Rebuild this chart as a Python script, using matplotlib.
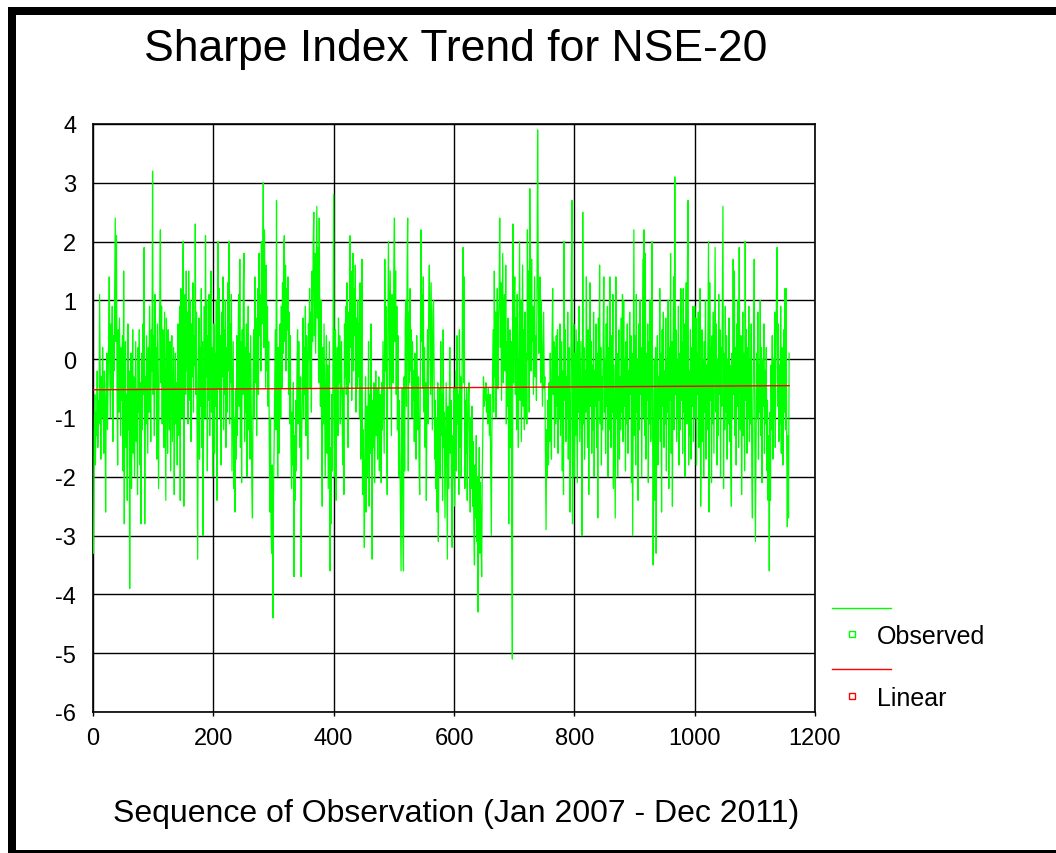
import matplotlib
matplotlib.use("Agg")
import matplotlib.pyplot as plt
from matplotlib.lines import Line2D
from matplotlib.patches import Rectangle
import numpy as np

# Sharpe index per observation (Jan 2007 - Dec 2011)
observed = [
    -3.3, -1.2, -0.6, -1.8, -0.9, -1.3, -0.2, -1.5, -0.7, -1.1, 1.1, -0.4, -1.7, -0.3, -1.0, 0.2, -0.8, -1.6, -0.2, -0.9,
    -2.6, -0.5, 0.1, -1.2, -0.4, 0.3, 1.4, -0.3, -1.0, 0.6, -0.5, 0.9, -1.4, 0.4, -0.2, 1.2, 2.4, 0.3, 2.1, -0.6,
    -1.8, 0.5, -0.9, 0.7, -0.3, -1.3, 0.2, -0.7, 0.4, -1.9,
    1.5, -2.8, -0.4, 0.3, -1.5, -0.6, -2.4, 0.6, -1.2, -0.2, -3.9, -1.0, 0.1, -2.2, -0.7, 0.5, -1.6, -0.3, -2.0, -0.8,
    0.3, -1.4, -0.5, -2.3, 0.2, -0.9, 0.5, -1.8, -0.4, -2.8, 0.1, -1.2, 0.6, -0.6, 1.9, -2.8, -0.3, -1.1, 0.4, -0.7,
    -1.6, 0.2, -0.9, 0.9, -0.4, -1.4, 0.5, -0.2, 3.2, -0.6,
    0.4, -1.3, 1.1, -0.5, 0.2, -1.7, 0.6, -0.8, -2.2, 0.3, 1.0, 2.2, -0.4, 0.9, -1.1, 0.5, -0.3, -1.5, 0.8, -0.9,
    -2.4, 0.7, -0.1, -1.6, 0.5, -0.7, -1.2, 0.3, -1.9, -0.2, 0.4, -1.4, -0.6, 0.2, -2.3, -0.8, 0.1, -1.1, -0.4, -1.8,
    0.6, -0.5, -1.3, 0.9, -2.4, 1.2, 0.3, -1.0, 1.6, 2.0,
    -2.5, 0.4, 1.1, -0.6, 1.5, -0.2, 0.8, -1.1, 1.5, 0.2, -0.7, 1.0, -1.4, 0.6, -0.3, 1.3, -0.9, 0.4, -0.1, 2.3,
    -0.6, 0.8, -1.2, -3.4, -0.4, 0.7, -1.7, 0.2, -0.8, 1.2, -1.5, 0.3, -3.0, -0.5, 0.9, -1.0, 2.1, -0.3, 1.0, -1.9,
    0.4, -0.7, 1.1, -1.3, 0.5, 1.5, -0.9, 0.2, -2.0, -0.4,
    0.6, -1.6, 0.1, -0.8, 1.0, -2.4, 0.3, 2.0, -0.5, 1.2, -1.0, 0.4, -1.8, 0.8, -0.3, 1.4, -1.2, 0.5, -0.6, 1.0,
    -1.5, 0.2, -0.9, 1.3, -0.2, 2.0, -1.1, 0.6, -0.4, 1.1, -1.9, -0.7, 0.3, -2.2, -1.0, -2.6, -0.5, -1.7, 0.4, -1.3,
    -0.2, 1.1, -0.8, 1.7, -1.5, 0.3, -2.1, 0.5, -0.6, 1.3,
    1.8, -1.4, 0.2, -0.9, 0.6, -2.0, -0.3, 0.9, -1.2, 0.1, -1.7, 0.4, -0.8, -2.1, -2.7, -0.5, 0.5, -1.0, 1.4, -0.4,
    0.7, -1.3, 0.3, 1.2, -0.6, 1.8, 0.4, 1.1, -0.2, 2.0, 0.6, 1.5, 3.0, 0.2, 2.2, 0.8, -0.5, 1.6, -0.2, 0.9,
    -0.8, 0.3, -1.4, -2.6, -1.0, -2.9, -3.3, -1.8, -4.4, -2.3,
    -1.5, -0.4, 0.5, -1.2, 2.7, -0.7, -2.0, 0.2, -1.6, -0.3, 0.6, -1.0, 0.9, -0.5, 1.3, 0.1, 1.9, 2.1, 0.3, 1.6,
    -0.2, 1.2, 0.5, 1.4, -0.6, 0.8, -1.1, 0.4, -1.5, -2.2, -0.9, -1.8, -0.4, -3.7, -1.3, -2.4, -0.7, -1.9, -0.2, 0.5,
    -1.1, 0.3, -0.8, -1.5, -0.3, -3.7, -1.2, -0.5, 0.7, -1.0,
    0.2, -0.6, 0.9, -1.3, 0.4, -0.2, -1.7, 0.6, 0.0, 1.2, -0.5, 0.8, -0.9, 1.5, 0.3, 2.0, 2.5, 0.4, 1.8, 0.1,
    1.4, 2.6, 0.7, 1.9, -0.4, 2.4, 0.5, -0.8, 1.0, -1.4, -2.5, 0.2, -1.1, 0.6, -0.7, -2.0, -0.3, 0.4, -1.6, -0.1,
    -2.2, -0.9, 0.3, -3.6, -1.5, -2.8, -0.6, -1.9, 0.4, 2.8,
    -1.0, -2.0, 0.5, -2.4, -0.6, 0.2, -1.3, 0.7, -0.4, 0.4, -1.1, -0.2, 0.3, -0.8, -1.8, -0.5, -2.3, 0.6, -0.3, 0.9,
    -0.6, 1.3, 0.4, -1.5, 0.8, -0.4, 2.1, 0.2, 1.5, -0.7, 0.9, 1.8, -0.2, 1.2, 0.4, 1.6, -0.9, 0.7, -0.5, 1.0,
    -0.3, 0.6, -1.0, 1.3, -1.7, -0.6, 1.7, -2.3, -1.2, -2.0,
    -3.2, -1.4, -0.3, -2.6, -0.8, -2.0, -1.1, 0.3, -2.5, -0.6, -1.6, 0.6, -1.0, -3.4, -0.7, -1.5, -0.4, -2.1, -0.9, -0.2,
    -1.3, -0.5, -1.7, -0.8, -0.3, -1.9, -0.6, -1.1, -2.1, -0.4, -1.2, 0.3, -0.7, -1.6, 1.7, -0.2, 0.9, -1.0, -2.3, 0.4,
    2.0, 0.8, -0.5, 1.5, 0.2, -1.3, 1.1, 0.5, -0.4, 1.6,
    2.4, 0.3, 1.5, -0.6, 0.9, -1.2, 0.4, -2.0, -0.7, -1.5, -2.6, -3.6, -1.4, -0.5, -2.9, -3.6, -0.3, -1.9, 0.6, 1.0,
    -0.8, 1.4, 2.4, -1.9, 0.8, -0.4, 1.2, -0.2, 0.5, -1.0, 0.3, -0.7, -0.2, -1.4, 0.1, -0.9, -1.7, 0.4, -0.6, -1.2,
    -0.3, -1.8, -2.3, -0.4, 2.2, 0.3, 1.1, -0.5, 1.4, -0.9,
    0.2, -1.5, -0.4, -2.4, -0.8, 0.5, -1.1, 1.0, 1.6, 0.4, -0.6, 1.3, 0.0, -1.2, 0.8, 1.0, -0.3, -1.7, -0.7, -2.2,
    -1.0, -2.6, -0.4, -3.1, -1.4, -0.5, -2.0, 0.3, -1.3, -0.6, -2.4, 0.5, -1.5, -0.9, -2.7, -1.6, -0.4, -1.9, -3.4, -0.8,
    -2.2, -1.2, 0.2, -1.6, -0.7, -2.5, -3.2, -1.3, -2.0, -0.5,
    -2.5, -1.4, -0.2, -1.9, 0.4, -1.1, -0.6, -2.3, 0.5, -1.5, -0.3, -2.0, -0.9, 0.9, 1.9, -0.4, 1.4, -2.2, -0.7, -1.6,
    -0.5, -2.4, -1.2, -0.6, -0.4, -1.9, -2.6, -1.0, -2.2, -0.8, -2.5, -1.4, -2.9, -3.5, -1.8, -2.7, -1.3, -3.1, -2.0, -4.3,
    -2.6, -1.5, -3.3, -2.1, -3.0, -3.7, -1.9, -1.2, -0.3, -0.8,
    -0.5, -0.7, -0.4, -0.9, -0.6, -1.1, -0.5, -0.8, -1.3, -0.6, -1.8, -3.0, -1.2, -0.4, 0.5, -0.9, 1.5, -0.3, 0.8, -1.0,
    0.4, 1.2, -0.5, 0.7, 1.0, 2.4, 0.2, 1.3, -0.7, 0.6, 1.8, -0.4, 0.9, 1.1, -0.2, 1.6, -1.1, 0.3, -0.8, 0.7,
    -2.8, -0.6, 0.5, -1.5, 0.3, -3.1, -5.1, 2.3, -0.4, 0.8,
    1.4, -0.6, 0.7, -1.2, 1.1, -0.4, -1.5, 0.3, 2.0, -0.7, 1.0, -1.4, 0.2, 1.6, -0.8, 0.5, -1.2, 0.8, -1.0, 0.1,
    -1.1, 2.2, 0.0, 1.5, -0.9, 2.9, 0.7, -0.2, 1.7, 0.3, 0.9, -0.6, 0.5, 1.4, -0.3, 0.4, -0.7, 1.2, 3.9, 1.5,
    0.1, 0.6, 1.4, -0.4, 1.0, 0.2, -0.8, 0.0, 0.8, -0.5,
    -0.3, -1.6, -2.9, -1.2, -2.0, -0.7, -1.8, -0.4, -1.4, 0.1, -0.9, -1.7, 0.4, 1.2, -0.6, 0.3, -1.5, 0.2, -1.1, 0.4,
    -0.8, 0.5, -1.6, -0.3, -1.0, 0.6, -1.3, -0.5, 0.3, -1.9, -0.2, -2.3, 2.0, -0.7, 0.5, -1.4, -0.3, -1.0, 0.8, -1.7,
    0.2, -0.6, -2.6, -1.1, 1.3, 2.7, -2.8, -0.8, 0.6, -2.0,
    0.1, -1.3, 0.5, -0.7, -2.1, 0.3, -0.9, 0.9, -1.4, -0.5, 0.3, -1.9, -3.0, 2.5, -1.1, 0.2, -1.7, -0.2, -0.9, 1.4,
    -0.6, -1.5, 0.5, -2.3, -0.3, 1.3, -0.8, 0.3, -1.6, -0.1, -1.2, 0.8, -2.0, -0.2, -0.8, 0.6, -1.5, 0.1, -2.7, 0.7,
    -0.7, 1.6, -1.1, 0.2, -1.8, -0.3, -1.2, 0.4, 1.4, -0.9,
    0.0, -1.6, 0.6, -0.8, 0.9, -2.0, 0.2, -1.2, 1.4, -0.6, -1.5, 0.4, -0.9, 1.1, -2.2, -0.1, -1.3, -2.7, 1.4, -1.0,
    0.1, -2.0, -0.6, 0.5, -1.7, -0.3, -1.2, 0.7, -0.9, 1.1, -1.4, 1.0, -0.8, 0.0, -1.9, 0.3, -1.1, 0.6, -1.6, -0.2,
    -1.0, 0.8, -0.6, 0.4, -2.1, 0.1, -3.0, -0.2, 2.2, -1.3,
    0.4, -1.8, 1.1, -0.9, 0.0, -2.4, 0.6, -1.2, 1.0, -0.6, 0.2, -2.0, -0.2, 1.7, -1.0, 2.2, -1.3, 1.8, -1.7, 0.1,
    -0.7, 0.6, -2.1, 0.3, -1.1, 1.0, -1.4, 0.1, 2.0, -0.8, -3.5, -1.5, 0.0, -2.4, 0.2, -3.3, -1.1, 0.4, -1.8, -0.3,
    -1.0, 1.2, -1.4, 0.1, -2.6, 0.5, -0.8, 0.8, -1.5, -0.2,
    -1.1, 0.7, -1.9, 0.0, -0.9, 1.0, -2.2, 0.2, -0.7, 1.8, -1.6, 0.3, -2.5, -0.1, 1.4, -1.2, 3.1, -0.6, 0.5, -1.4,
    0.0, -1.0, 0.9, -1.8, 0.1, -1.2, 1.2, -0.7, 0.3, -1.6, 1.2, -0.9, 0.6, -2.0, 0.1, 1.3, -1.1, 1.5, 2.7, -1.8,
    -0.2, -1.3, 0.5, -1.7, 0.2, -0.8, 0.9, -1.4, 0.0, 0.9,
    -1.0, 0.7, -1.8, 0.1, -0.6, 0.8, -1.5, 0.2, 1.2, -2.5, -0.8, 0.5, -1.4, 0.0, -2.0, 0.3, -0.9, 1.0, -1.7, -0.1,
    -1.2, 0.5, 2.0, -2.6, 1.3, -0.7, 0.2, -2.1, 0.4, -1.1, 0.8, -1.6, 0.1, 1.9, -0.9, 0.6, -1.8, 0.0, -1.3, 1.1,
    -0.6, 0.5, -2.0, 0.2, -0.8, 0.8, 2.6, -2.2, 0.1, -1.2,
    0.9, -0.9, 0.4, -1.7, 0.0, -1.1, 0.7, -1.4, -0.1, -1.8, -2.5, 0.1, -1.0, 1.7, -0.6, 1.5, -1.3, 0.2, -1.8, 0.6,
    -0.8, 1.0, -1.5, 1.9, -0.1, -1.2, 0.4, -2.3, -0.9, 0.8, -1.3, 0.1, -1.9, 2.0, -0.7, 0.5, -1.6, 0.2, -1.0, 0.9,
    -1.4, 0.0, -1.1, 0.6, -2.0, -2.7, -0.8, 0.3, 1.7, -1.2,
    -3.1, -1.4, 0.1, -1.0, 0.8, -1.7, -0.1, -0.9, 1.0, -1.3, 0.2, -2.1, 0.0, -0.8, 0.6, -1.6, -0.2, -1.1, 0.2, -1.9,
    -0.7, -2.4, -1.3, -3.6, -0.9, -2.4, -0.1, -1.2, 0.4, -1.7, 0.0, -1.0, 0.8, -1.5, 0.1, 1.1, 1.9, -0.8, 0.6, -1.4,
    -0.1, -1.1, 0.9, -1.6, 0.2, -0.7, -1.8, 0.5, -0.9, 1.2,
    -1.2, 1.2, -1.5, -2.85, -1.3, -2.7, 0.1,
]
# fitted linear trend, start and end value
linear_ends = [-0.52, -0.45]

title = "Sharpe Index Trend for NSE-20"
xlabel = "Sequence of Observation (Jan 2007 - Dec 2011)"
series_names = ["Observed", "Linear"]
x_ticks = [0, 200, 400, 600, 800, 1000, 1200]
y_ticks = [4, 3, 2, 1, 0, -1, -2, -3, -4, -5, -6]

plt.rcParams['font.family'] = ['Liberation Sans', 'DejaVu Sans']
plt.rcParams['axes.unicode_minus'] = False

W, H = 1056, 854
fig = plt.figure(figsize=(W / 100, H / 100), dpi=100)
ax = fig.add_axes([93 / W, 1 - 713 / H, (815 - 93) / W, (713 - 125) / H])

obs_x = np.arange(1, len(observed) + 1)
ax.plot(obs_x, observed, color='#00ff00', lw=0.9, zorder=3)
ax.plot([1, len(observed)], linear_ends, color='#ff0000', lw=1.0, zorder=4)

ax.set_xlim(0, 1200)
ax.set_ylim(-6, 4)
ax.set_xticks(x_ticks)
ax.set_yticks(y_ticks)
ax.grid(True, color='black', lw=1.0)
ax.set_axisbelow(True)
for sp in ax.spines.values():
    sp.set_linewidth(1.2)
ax.tick_params(axis='both', labelsize=17, length=3, width=1, pad=8, colors='black')
ax.tick_params(axis='y', length=0, pad=12)

fig.text(456 / W, 1 - 49 / H, title, fontsize=32, ha='center', va='center')
fig.text(456 / W, 1 - 814 / H, xlabel, fontsize=23, ha='center', va='center')

# legend drawn by hand, EViews style (line above, square marker + name below)
colors = ['#00ff00', '#ff0000']
for i, (name, c) in enumerate(zip(series_names, colors)):
    yl = 609 + i * 61
    ym = 635 + i * 62
    fig.add_artist(Line2D([832 / W, 891 / W], [1 - yl / H, 1 - yl / H], color=c, lw=1.0))
    fig.add_artist(Line2D([852 / W], [1 - ym / H], marker='s', markersize=5, mfc='white',
                          mec=c, mew=1.0, ls='none'))
    fig.text(877 / W, 1 - (ym + 2) / H, name, fontsize=18, ha='left', va='center')

# black frame at top / left / bottom of the picture
fig.add_artist(Rectangle((8 / W, 0), 8 / W, 1 - 8 / H, transform=fig.transFigure,
                         color='black', lw=0))
fig.add_artist(Rectangle((8 / W, 1 - 16 / H), 1 - 8 / W, 8 / H, transform=fig.transFigure,
                         color='black', lw=0))
fig.add_artist(Rectangle((8 / W, 0), 1 - 8 / W, 3 / H, transform=fig.transFigure,
                         color='black', lw=0))

fig.savefig('out.png', dpi=100, facecolor='white')
